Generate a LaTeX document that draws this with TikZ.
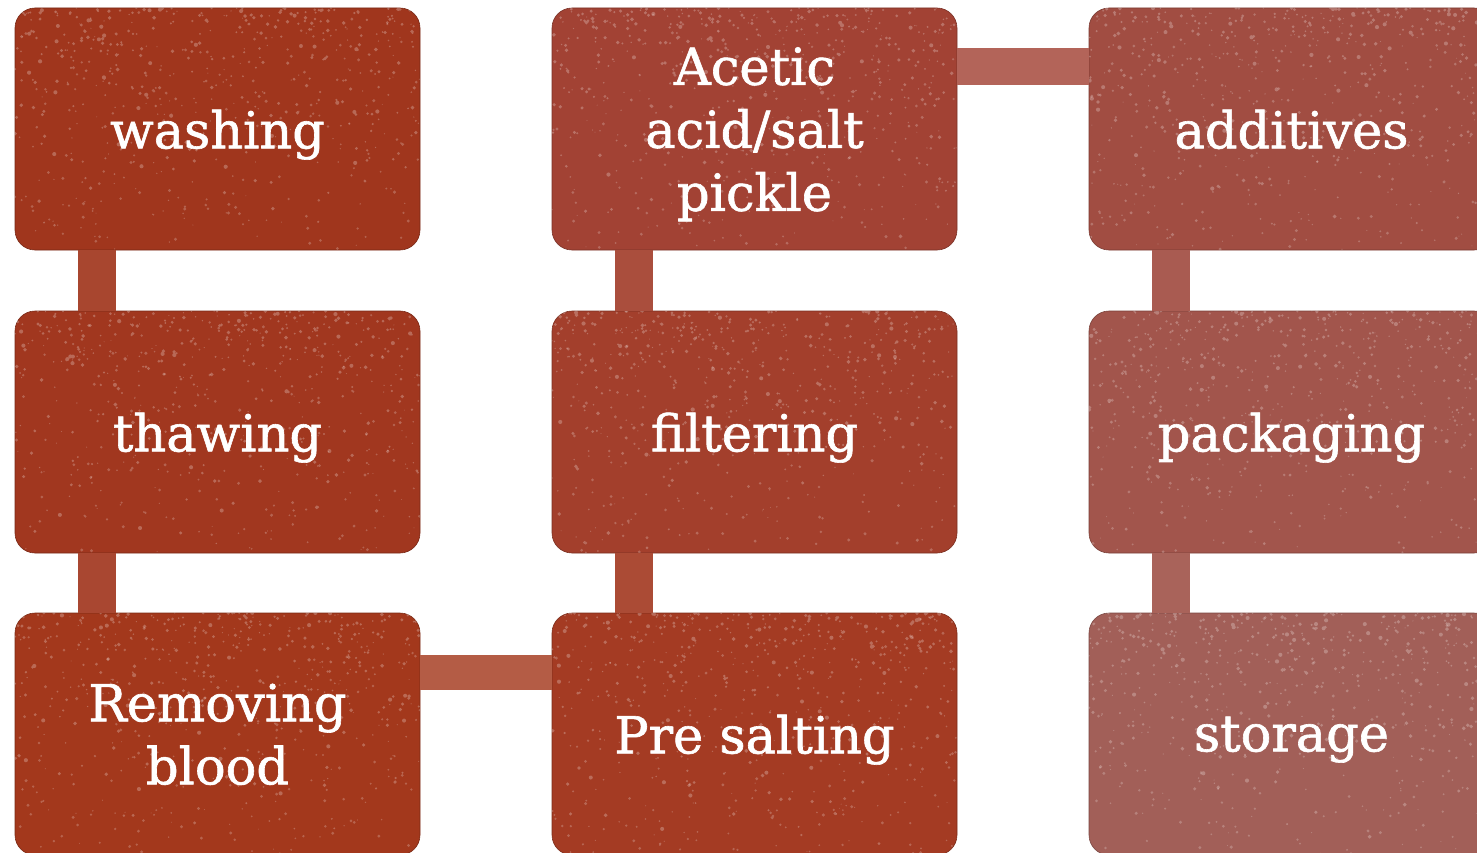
\documentclass[tikz,border=0pt]{standalone}
\usepackage{fontspec}
\setmainfont{DejaVu Serif}
\newfontfamily\boxfont{DejaVu Serif}[FakeBold=1.2]
\usetikzlibrary{calc}
\definecolor{cWash}{HTML}{A0361D}
\definecolor{cThaw}{HTML}{A1371F}
\definecolor{cRem}{HTML}{A3381C}
\definecolor{cPre}{HTML}{A43B23}
\definecolor{cFil}{HTML}{A33F2C}
\definecolor{cAce}{HTML}{A24234}
\definecolor{cAdd}{HTML}{A14D42}
\definecolor{cPack}{HTML}{A2554C}
\definecolor{cStor}{HTML}{A25F58}
\newcommand{\grunge}[1]{%
  \begin{scope}
    \clip[rounded corners=20pt] (#1.north west) rectangle (#1.south east);
    \fill[white, opacity=0.25]
      \foreach \k in {1,...,380}{ ($(#1.north west)+({rnd*405},{rnd*rnd*242})$) circle[radius={0.6+1.5*rnd}] };
    \fill[white, opacity=0.22]
      \foreach \k in {1,...,260}{ ($(#1.north west)+({rnd*405},{rnd*242})$) circle[radius={0.5+1.2*rnd}] };
  \end{scope}}
\begin{document}
\begin{tikzpicture}[x=1pt,y=-1pt,
  stepbox/.style={rounded corners=20pt, minimum width=405pt, minimum height=242pt,
    inner sep=0pt, text=white, align=center, font=\boxfont\fontsize{51}{63}\selectfont,
    text depth=0pt, draw=#1!75!black, line width=0.6pt, fill=#1},
  conn/.style={line width=#1, line cap=butt},
]
\pgfmathsetseed{4711}
\clip (0,0) rectangle (1477,853);
% boxes
\node[stepbox=cWash] (washing) at (217.5,129) {washing};
\node[stepbox=cThaw] (thawing) at (217.5,432) {thawing};
\node[stepbox=cRem] (removing) at (217.5,734) {Removing\\blood};
\node[stepbox=cPre] (presalting) at (754.5,734) {Pre salting};
\node[stepbox=cFil] (filtering) at (754.5,432) {filtering};
\node[stepbox=cAce] (acetic) at (754.5,129) {Acetic\\acid/salt\\pickle};
\node[stepbox=cAdd] (additives) at (1291.5,129) {additives};
\node[stepbox=cPack] (packaging) at (1291.5,432) {packaging};
\node[stepbox=cStor] (storage) at (1291.5,734) {storage};
\grunge{washing}\grunge{thawing}\grunge{removing}
\grunge{presalting}\grunge{filtering}\grunge{acetic}
\grunge{additives}\grunge{packaging}\grunge{storage}
% connectors
\draw[conn=38pt, draw=cWash!92!white] ($(washing.south west)+(82,0)$) -- ($(thawing.north west)+(82,0)$);
\draw[conn=38pt, draw=cThaw!92!white] ($(thawing.south west)+(82,0)$) -- ($(removing.north west)+(82,0)$);
\draw[conn=35pt, draw=cRem!82!white] ($(removing.north east)+(0,59.5)$) -- ($(presalting.north west)+(0,59.5)$);
\draw[conn=38pt, draw=cPre!92!white] ($(presalting.north west)+(82,0)$) -- ($(filtering.south west)+(82,0)$);
\draw[conn=38pt, draw=cFil!92!white] ($(filtering.north west)+(82,0)$) -- ($(acetic.south west)+(82,0)$);
\draw[conn=37pt, draw=cAce!82!white] ($(acetic.north east)+(0,59)$) -- ($(additives.north west)+(0,59)$);
\draw[conn=38pt, draw=cAdd!92!white] ($(additives.south west)+(82,0)$) -- ($(packaging.north west)+(82,0)$);
\draw[conn=38pt, draw=cPack!92!white] ($(packaging.south west)+(82,0)$) -- ($(storage.north west)+(82,0)$);
\end{tikzpicture}
\end{document}
